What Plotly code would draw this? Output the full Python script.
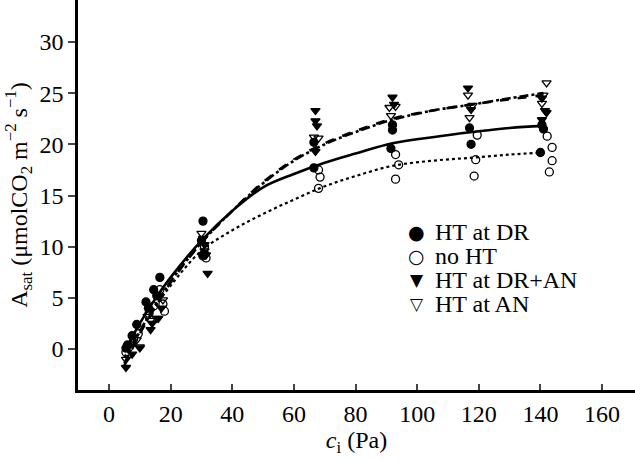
import plotly.graph_objects as go

# ---------------- data ----------------
dr_x = [5.5, 6.0, 7.5, 9.0, 12.0, 12.8, 14.5, 15.5, 16.5, 30.5, 30.0, 31.0, 30.5, 66.5, 66.5, 92.0, 92.0, 91.5, 117.0, 117.5, 140.5, 141.0, 140.0]
dr_y = [0.1, 0.4, 1.3, 2.4, 4.6, 4.0, 5.8, 5.2, 7.0, 12.5, 10.6, 9.3, 9.2, 20.2, 17.7, 21.9, 21.4, 19.6, 21.6, 20.0, 21.9, 21.5, 19.2]

no_x = [5.5, 6.5, 8.0, 9.5, 13.0, 14.5, 16.5, 17.5, 18.0, 31.0, 31.5, 30.5, 68.0, 68.5, 68.0, 93.0, 94.0, 93.0, 119.5, 119.0, 118.5, 142.2, 143.8, 143.8, 142.9]
no_y = [-0.3, 0.2, 1.0, 1.5, 3.5, 4.2, 5.8, 4.4, 3.7, 10.0, 8.9, 9.1, 17.5, 16.8, 15.7, 19.0, 18.0, 16.6, 20.9, 18.5, 16.9, 20.8, 19.7, 18.4, 17.3]

dran_x = [5.5, 7.5, 10.0, 13.5, 14.0, 16.0, 17.0, 30.5, 31.0, 32.0, 67.0, 67.0, 67.5, 67.0, 92.0, 92.5, 116.5, 117.5, 140.5, 141.5, 142.0, 140.5]
dran_y = [-1.8, -0.5, 0.1, 1.9, 2.5, 3.0, 4.0, 10.8, 10.2, 7.4, 23.3, 22.3, 21.8, 19.3, 24.6, 23.9, 25.5, 23.4, 24.5, 23.3, 23.1, 22.4]

an_x = [5.5, 7.0, 9.0, 10.0, 12.5, 13.5, 15.5, 17.5, 30.0, 31.0, 31.5, 66.5, 68.0, 91.0, 93.0, 91.5, 116.5, 118.0, 117.0, 142.0, 141.0, 140.5]
an_y = [-1.0, 0.5, 0.9, 0.2, 3.2, 2.8, 3.0, 4.8, 11.3, 9.6, 9.2, 20.7, 20.6, 23.6, 23.7, 22.8, 24.8, 23.8, 22.6, 26.0, 24.8, 24.0]

# fitted curves
fit_ci = [5, 10, 15, 20, 30, 40, 50, 60, 70, 80, 92, 105, 118, 130, 141]
fit_dr = [-0.3, 2.5, 4.9, 7.0, 10.6, 13.5, 15.8, 17.1, 18.2, 19.1, 20.1, 20.7, 21.2, 21.6, 21.8]
fit_no = [-0.8, 1.8, 4.1, 6.2, 9.6, 11.6, 13.2, 14.6, 15.9, 16.9, 17.9, 18.4, 18.7, 19.0, 19.2]
fit_dran = [-1.6, 1.5, 4.1, 6.5, 10.4, 13.5, 16.3, 18.5, 20.1, 21.3, 22.5, 23.3, 23.9, 24.4, 24.8]
fit_an = [-1.4, 1.7, 4.3, 6.6, 10.4, 13.5, 16.2, 18.4, 20.0, 21.2, 22.4, 23.3, 23.9, 24.5, 25.0]

legend_names = ["HT at DR", "no HT", "HT at DR+AN", "HT at AN"]
legend_glyphs = ["●", "○", "▼", "▽"]

x_ticks = [0, 20, 40, 60, 80, 100, 120, 140, 160]
y_ticks = [0, 5, 10, 15, 20, 25, 30]

FONT = "Liberation Serif, Times New Roman, serif"
FS = 24

fig = go.Figure()

for ys, dash, w in [(fit_dr, "solid", 2.6), (fit_no, "dot", 2.2), (fit_dran, "dash", 2.6), (fit_an, "dashdot", 2.6)]:
    fig.add_trace(go.Scatter(x=fit_ci, y=ys, mode="lines", line=dict(color="black", width=w, dash=dash, shape="spline"),
                             showlegend=False, hoverinfo="skip"))

series = [
    (legend_names[0], dr_x, dr_y, "circle"),
    (legend_names[1], no_x, no_y, "circle-open"),
    (legend_names[2], dran_x, dran_y, "triangle-down"),
    (legend_names[3], an_x, an_y, "triangle-down-open"),
]
for name, xs, ys, sym in series:
    fig.add_trace(go.Scatter(x=xs, y=ys, mode="markers", name=name, showlegend=False,
                             marker=dict(symbol=sym, size=8, color="black", line=dict(color="black", width=1.3))))

# legend drawn as text rows (symbol glyph + label)
row_y = [0.405, 0.344, 0.282, 0.220]
for i, (g, n) in enumerate(zip(legend_glyphs, legend_names)):
    fig.add_annotation(x=0.6086, y=row_y[i], xref="paper", yref="paper", text=g, showarrow=False,
                       xanchor="center", yanchor="middle",
                       font=dict(family="DejaVu Sans", size=19 if i < 2 else 17, color="black"))
    fig.add_annotation(x=0.638, y=row_y[i], xref="paper", yref="paper", text=n, showarrow=False,
                       xanchor="left", yanchor="middle", font=dict(family=FONT, size=FS, color="black"))

fig.update_layout(
    width=635, height=461,
    margin=dict(l=78, r=0, t=0, b=71),
    paper_bgcolor="white", plot_bgcolor="white",
    font=dict(family=FONT, size=FS, color="black"),
    showlegend=False,
    xaxis=dict(range=[-10.06, 170.7], tickvals=x_ticks, ticks="inside", ticklen=6, tickwidth=2,
               showline=True, linecolor="black", linewidth=2.5, showgrid=False, zeroline=False,
               automargin=False, tickfont=dict(size=FS, family=FONT),
               title=dict(text="<i>c</i><sub>i</sub> (Pa)", font=dict(size=FS, family=FONT), standoff=6)),
    yaxis=dict(range=[-4.0, 34.1], tickvals=y_ticks, ticks="outside", ticklen=7, tickwidth=2,
               showline=True, linecolor="black", linewidth=2.5, showgrid=False, zeroline=False,
               automargin=False, tickfont=dict(size=FS, family=FONT), ticklabelstandoff=0,
               title=dict(text="A<sub>sat</sub> (μmolCO<sub>2</sub> m<sup>−2</sup> s<sup>−1</sup>)",
                          font=dict(size=FS, family=FONT), standoff=6)),
)

fig.write_html("out.html", config={"displayModeBar": False},
               post_script="document.body.style.margin='0px';")
